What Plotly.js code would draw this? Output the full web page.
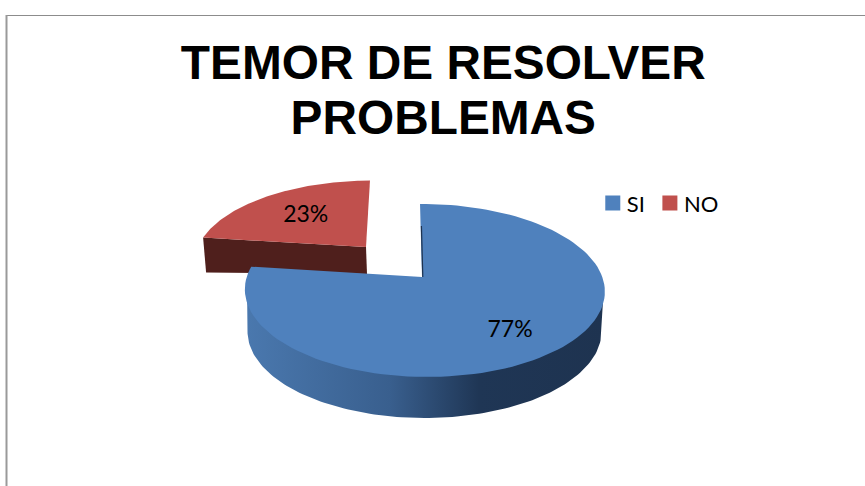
<!DOCTYPE html>
<html>
<head>
<meta charset="utf-8">
<script src="https://cdn.plot.ly/plotly-3.0.1.min.js"></script>
<style>html,body{margin:0;padding:0;background:#fff}#chart{width:865px;height:486px}</style>
</head>
<body>
<div id="chart"></div>
<script>
const titleText = 'TEMOR DE RESOLVER<br>PROBLEMAS';
const categories = ['SI', 'NO'];
const percents = [77, 23];
const topColors = ['#4f81bd', '#c0504d'];
const sideColor = '#4f1f1c';

const W = 865, H = 486;
const F = '"Lato","Carlito",sans-serif';

// ray from the wedge apex to the ellipse rim, at a data angle (clockwise from 12 o'clock)
function rim(apex, e, deg) {
  const t = deg * Math.PI / 180;
  const dx = Math.sin(t) * e.rx, dy = -Math.cos(t) * e.ry;
  const px = (apex[0] - e.cx) / e.rx, py = (apex[1] - e.cy) / e.ry;
  const qx = dx / e.rx, qy = dy / e.ry;
  const a = qx * qx + qy * qy, b = 2 * (px * qx + py * qy), c = px * px + py * py - 1;
  const s = (-b + Math.sqrt(b * b - 4 * a * c)) / (2 * a);
  const y = apex[1] + dy * s;
  return [apex[0] + dx * s - (e.shear || 0) * (y - apex[1]), y];
}
function wedge(apex, e, from, to) {
  const xs = [apex[0]], ys = [apex[1]];
  for (let d = from; d <= to + 1e-6; d += (to - from) / 120) {
    const p = rim(apex, e, d); xs.push(p[0]); ys.push(p[1]);
  }
  xs.push(apex[0]); ys.push(apex[1]);
  return {xs, ys};
}
function poly(xs, ys, fill, extra) {
  return Object.assign({type: 'scatter', mode: 'lines', x: xs, y: ys, fill: 'toself', fillcolor: fill,
    line: {width: 0, color: fill}, showlegend: false, hoverinfo: 'skip'}, extra || {});
}

const total = percents.reduce((a, b) => a + b, 0);
const angleSI = percents[0] / total * 360;

// main slice
const apexSI = [422, 277];
const elSI = {cx: 424.5, cy: 290.5, rx: 180, ry: 86.5, shear: -0.027};
const topSI = wedge(apexSI, elSI, 0, angleSI);
const depthSI = 41;
const wallX = [], wallY = [];
for (let i = 0; i <= 120; i++) {
  const t = Math.PI * i / 120;
  wallX.push(elSI.cx + 1 - (elSI.rx - 1.5) * Math.cos(t));
  wallY.push(elSI.cy - 5 + elSI.ry * Math.sin(t));
}
for (let i = 120; i >= 0; i--) {
  const t = Math.PI * i / 120;
  wallX.push(elSI.cx - (elSI.rx - 3) * Math.cos(t));
  wallY.push(elSI.cy + depthSI + elSI.ry * Math.sin(t));
}

// exploded slice
const apexNO = [366, 247];
const elNO = {cx: 368, cy: 259, rx: 172, ry: 78.5, shear: 0.06};
const topNO = wedge(apexNO, elNO, angleSI, 360);
const noLeft = rim(apexNO, elNO, angleSI);
const sideNOx = [apexNO[0], noLeft[0], noLeft[0] + 3, apexNO[0] + 1];
const sideNOy = [apexNO[1], noLeft[1], noLeft[1] + 35, apexNO[1] + 27];

function labelPos(apex, e, f, mid, dy) {
  const t = mid * Math.PI / 180;
  return [apex[0] + f * e.rx * Math.sin(t), apex[1] - f * e.ry * Math.cos(t) + dy];
}
const lblSI = labelPos(apexSI, elSI, 0.74, angleSI / 2, 6);
const lblNO = labelPos(apexNO, elNO, 0.53, (angleSI + 360) / 2, 0);

const edge = rim(apexSI, elSI, 0);

const traces = [
  poly(sideNOx, sideNOy, sideColor),
  poly(topNO.xs, topNO.ys, topColors[1]),
  poly(wallX, wallY, '#1e3350', {fillgradient: {type: 'horizontal', colorscale: [
    [0, '#4a78ae'], [0.4, '#395f8e'], [0.65, '#1f3655'], [1, '#1e3350']]}}),
  poly(topSI.xs, topSI.ys, topColors[0]),
  {type: 'scatter', mode: 'lines', x: [edge[0] + 1.4, apexSI[0] + 0.8], y: [edge[1] + 22, apexSI[1]],
    line: {color: '#1e3350', width: 1.2}, showlegend: false, hoverinfo: 'skip'},
  {type: 'scatter', mode: 'text', x: [lblSI[0], lblNO[0]], y: [lblSI[1], lblNO[1]],
    text: percents.map(p => p + '%'), textposition: 'middle center',
    textfont: {family: F, size: 23, color: '#000'}, showlegend: false, hoverinfo: 'skip'},
  ...categories.map((c, i) => ({type: 'scatter', mode: 'markers', x: [-100], y: [-100], name: c,
    marker: {symbol: 'square', size: 15, color: topColors[i]}, hoverinfo: 'skip'}))
];

const layout = {
  width: W, height: H,
  margin: {l: 0, r: 0, t: 0, b: 0},
  paper_bgcolor: '#fff', plot_bgcolor: '#fff',
  title: {text: titleText, x: 0.5125, xanchor: 'center', y: 0.837, yanchor: 'middle',
    font: {family: '"Liberation Sans",Arial,sans-serif', size: 47.8, color: '#000', weight: 700}},
  xaxis: {range: [0, W], visible: false, fixedrange: true},
  yaxis: {range: [H, 0], visible: false, fixedrange: true},
  showlegend: true,
  legend: {orientation: 'h', x: 0.6853, y: 0.582, xanchor: 'left', yanchor: 'middle', traceorder: 'normal',
    font: {family: F, size: 22, color: '#000'}, bgcolor: 'rgba(0,0,0,0)', itemwidth: 30},
  shapes: [
    {type: 'line', xref: 'x', yref: 'y', x0: 6, x1: W, y0: 15.5, y1: 15.5, line: {color: '#8c8c8c', width: 1}},
    {type: 'line', xref: 'x', yref: 'y', x0: 6.5, x1: 6.5, y0: 15, y1: H, line: {color: '#9a9a9a', width: 2}}
  ]
};
Plotly.newPlot('chart', traces, layout, {displayModeBar: false, responsive: false}).then(gd => {
  // tighter title leading and legend spacing, as in the source chart
  gd.querySelectorAll('.gtitle tspan.line').forEach((t, i) => { if (i > 0) t.setAttribute('dy', (1.15 * i) + 'em'); });
  gd.querySelectorAll('.legend .traces').forEach((g, i) => {
    const m = /translate\(([-\d.]+),\s*([-\d.]+)\)/.exec(g.getAttribute('transform'));
    if (m) g.setAttribute('transform', `translate(${+m[1] - 6 * i},${m[2]})`);
    const txt = g.querySelector('.legendtext');
    if (txt) txt.setAttribute('x', +txt.getAttribute('x') - 6);
  });
});
</script>
</body>
</html>
